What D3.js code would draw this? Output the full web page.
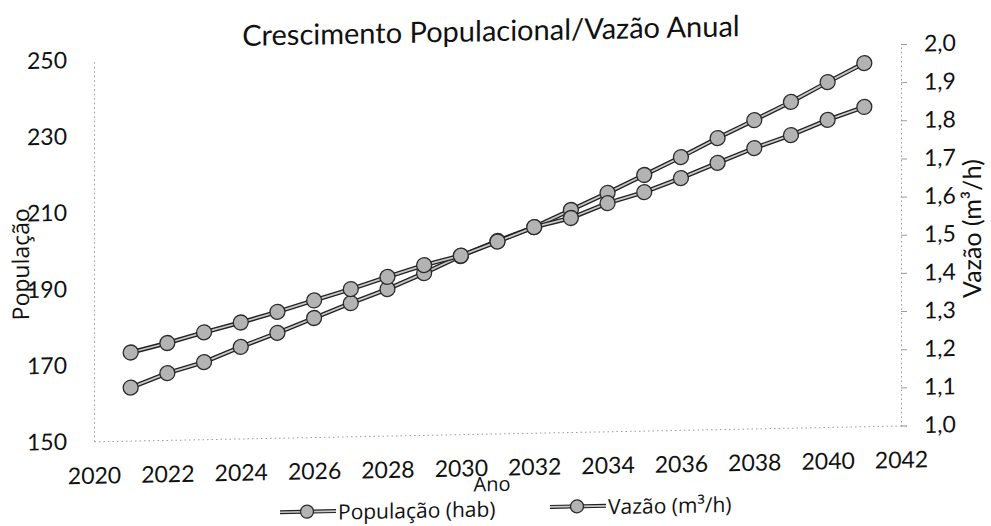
<!DOCTYPE html>
<html>
<head>
<meta charset="utf-8">
<script src="https://cdn.jsdelivr.net/npm/d3@7"></script>
<style>
  body { margin: 0; background: #fff; }
  svg { display: block; font-family: Lato, "Noto Sans", sans-serif; }
</style>
</head>
<body>
<div id="chart"></div>
<script>
const width = 991;
const height = 526;
const margin = { top: 52, right: 90, bottom: 92.5, left: 94 };

// dados
const anos = [2021, 2022, 2023, 2024, 2025, 2026, 2027, 2028, 2029, 2030, 2031,
  2032, 2033, 2034, 2035, 2036, 2037, 2038, 2039, 2040, 2041];
const populacao = [163.9, 167.5, 170.2, 174.0, 177.5, 181.2, 184.9, 188.4, 192.4, 196.7, 200.5,
  203.9, 208.2, 212.5, 217.0, 221.5, 226.3, 230.8, 235.4, 240.4, 245.2];
const vazao = [1.231, 1.254, 1.28, 1.304, 1.33, 1.358, 1.386, 1.416, 1.445, 1.468, 1.503,
  1.539, 1.561, 1.598, 1.625, 1.66, 1.698, 1.735, 1.767, 1.805, 1.837];

const anoTicks = [2020, 2022, 2024, 2026, 2028, 2030, 2032, 2034, 2036, 2038, 2040, 2042];
const popTicks = [150, 170, 190, 210, 230, 250];
const vazaoTicks = [1.0, 1.1, 1.2, 1.3, 1.4, 1.5, 1.6, 1.7, 1.8, 1.9, 2.0];

const titulo = "Crescimento Populacional/Vazão Anual";
const series = ["População (hab)", "Vazão (m³/h)"];

let xScale = d3.scaleLinear().domain([2020, 2042]).range([margin.left, width - margin.right]);
let yLeft = d3.scaleLinear().domain([150, 250]).range([height - margin.bottom, margin.top]);
let yRight = d3.scaleLinear().domain([1.0, 2.0]).range([height - margin.bottom, margin.top]);

let svg = d3.select("#chart").append("svg")
  .attr("width", width)
  .attr("height", height);

// the scan is slightly tilted
let g = svg.append("g")
  .attr("transform", "translate(495,263) skewY(-1.12) translate(-495,-263)");

let axisColor = "#9a9a9a";
let wideFont = "'Open Sans', 'Noto Sans', sans-serif";

// left axis
let gLeft = g.append("g")
  .attr("transform", `translate(${margin.left},0)`)
  .call(d3.axisLeft(yLeft).tickValues(popTicks).tickSize(0).tickPadding(27));
gLeft.select(".domain").attr("stroke", axisColor).attr("stroke-dasharray", "1.5,3");

// right axis
let gRight = g.append("g")
  .attr("transform", `translate(${width - margin.right},0)`)
  .call(d3.axisRight(yRight).tickValues(vazaoTicks).tickSize(6).tickPadding(17)
    .tickFormat((d) => d3.format(".1f")(d).replace(".", ",")));
gRight.select(".domain").attr("stroke", axisColor).attr("stroke-dasharray", "1.5,3");
gRight.selectAll(".tick line").attr("stroke", axisColor);

// bottom axis
let gBottom = g.append("g")
  .attr("transform", `translate(0,${height - margin.bottom})`)
  .call(d3.axisBottom(xScale).tickValues(anoTicks).tickSize(0).tickPadding(26)
    .tickFormat(d3.format("d")));
gBottom.select(".domain").attr("stroke", axisColor).attr("stroke-dasharray", "1.5,3");

g.selectAll(".tick text").attr("font-size", 23).attr("fill", "#111")
  .attr("font-family", "Lato, 'Noto Sans', sans-serif");

// titles
g.append("text")
  .attr("x", 491).attr("y", 41)
  .attr("text-anchor", "middle")
  .attr("font-size", 29)
  .attr("fill", "#111")
  .text(titulo);

g.append("text")
  .attr("transform", "translate(29,255) rotate(-90)")
  .attr("text-anchor", "middle")
  .attr("font-family", wideFont)
  .attr("font-size", 23)
  .attr("fill", "#111")
  .text("População");

g.append("text")
  .attr("transform", "translate(981,238) rotate(-90)")
  .attr("text-anchor", "middle")
  .attr("font-size", 25)
  .attr("fill", "#111")
  .text("Vazão (m³/h)");

g.append("text")
  .attr("x", 492).attr("y", 491)
  .attr("text-anchor", "middle")
  .attr("font-family", wideFont)
  .attr("font-size", 20)
  .attr("fill", "#111")
  .text("Ano");

function drawSeries(values, yScale) {
  let data = anos.map((a, i) => [xScale(a), yScale(values[i])]);
  let line = d3.line();
  let s = g.append("g");
  s.append("path").attr("d", line(data))
    .attr("fill", "none").attr("stroke", "#222").attr("stroke-width", 4.5);
  s.append("path").attr("d", line(data))
    .attr("fill", "none").attr("stroke", "#c8c8c8").attr("stroke-width", 1.8);
  s.selectAll("circle")
    .data(data)
    .join("circle")
    .attr("cx", (d) => d[0])
    .attr("cy", (d) => d[1])
    .attr("r", 7.5)
    .attr("fill", "#b3b3b3")
    .attr("stroke", "#2a2a2a")
    .attr("stroke-width", 1.3);
}

drawSeries(populacao, yLeft);
drawSeries(vazao, yRight);

// legend
let legendX = [280, 550];
series.forEach((name, i) => {
  let lg = g.append("g").attr("transform", `translate(${legendX[i]},508)`);
  lg.append("line").attr("x1", 0).attr("x2", 56)
    .attr("stroke", "#222").attr("stroke-width", 4);
  lg.append("line").attr("x1", 0).attr("x2", 56)
    .attr("stroke", "#c8c8c8").attr("stroke-width", 1.6);
  lg.append("circle").attr("cx", 27).attr("r", 6.5)
    .attr("fill", "#b3b3b3").attr("stroke", "#2a2a2a").attr("stroke-width", 1.3);
  lg.append("text").attr("x", 58).attr("y", 8.5)
    .attr("font-family", wideFont)
    .attr("font-size", 21).attr("fill", "#111")
    .text(name);
});
</script>
</body>
</html>
